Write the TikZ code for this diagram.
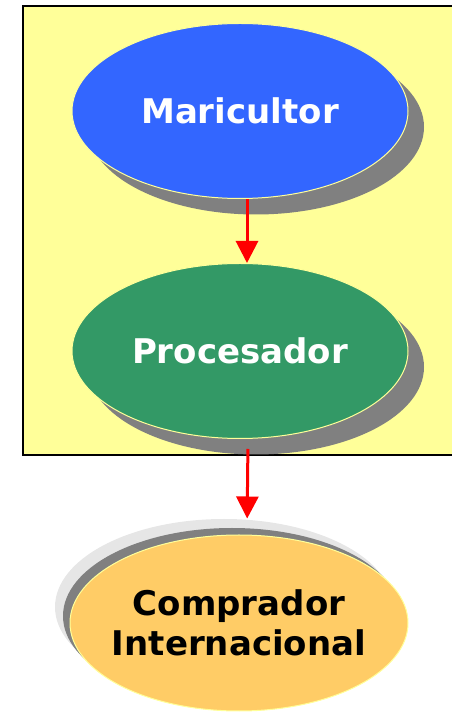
\documentclass[tikz,border=0pt]{standalone}
\usepackage{fontspec}
\setmainfont{DejaVu Sans}
\usetikzlibrary{arrows.meta, shapes.geometric, shadows}

\definecolor{paneyellow}{HTML}{FFFF99}
\definecolor{mariblue}{HTML}{3366FF}
\definecolor{procgreen}{HTML}{339966}
\definecolor{compgold}{HTML}{FFCC66}
\definecolor{shadowgray}{HTML}{808080}
\definecolor{haloGray}{HTML}{E6E6E6}

\begin{document}
\begin{tikzpicture}[
    x=1pt, y=1pt,
    stage/.style={
        ellipse,
        draw=paneyellow,
        line width=1pt,
        minimum width=336pt,
        minimum height=175pt,
        inner sep=0pt,
        align=center,
        font=\fontsize{34}{40}\selectfont\bfseries,
    },
    backshadow/.style={
        general shadow={shadow xshift=16pt, shadow yshift=-16pt, fill=shadowgray},
    },
    flow/.style={
        draw=red,
        line width=3pt,
        -{Triangle[width=22pt, length=22pt]},
    }
]
    \useasboundingbox (0,0) rectangle (452,712);

    % Panel
    \draw[line width=2.5pt, fill=paneyellow] (23,257) rectangle (470,706);

    % Stages
    \node[stage, backshadow, fill=mariblue, text=white] (mari) at (240,601) {Maricultor};
    \node[stage, backshadow, fill=procgreen, text=white] (proc) at (240,361) {Procesador};
    \node[stage, minimum width=338pt, minimum height=176pt, inner xsep=-40pt,
          general shadow={shadow xshift=-15pt, shadow yshift=16pt, fill=haloGray},
          general shadow={shadow xshift=-7pt, shadow yshift=7pt, fill=shadowgray},
          fill=compgold, text=black] (comp) at (239,89) {Comprador\\Internacional};

    % Flow
    \draw[flow] ([xshift=7pt]mari.south) -- ([xshift=7pt]proc.north);
    \draw[flow, shorten <=10pt, shorten >=16pt] ([xshift=8pt]proc.south) -- ([xshift=8pt]comp.north);
\end{tikzpicture}
\end{document}
